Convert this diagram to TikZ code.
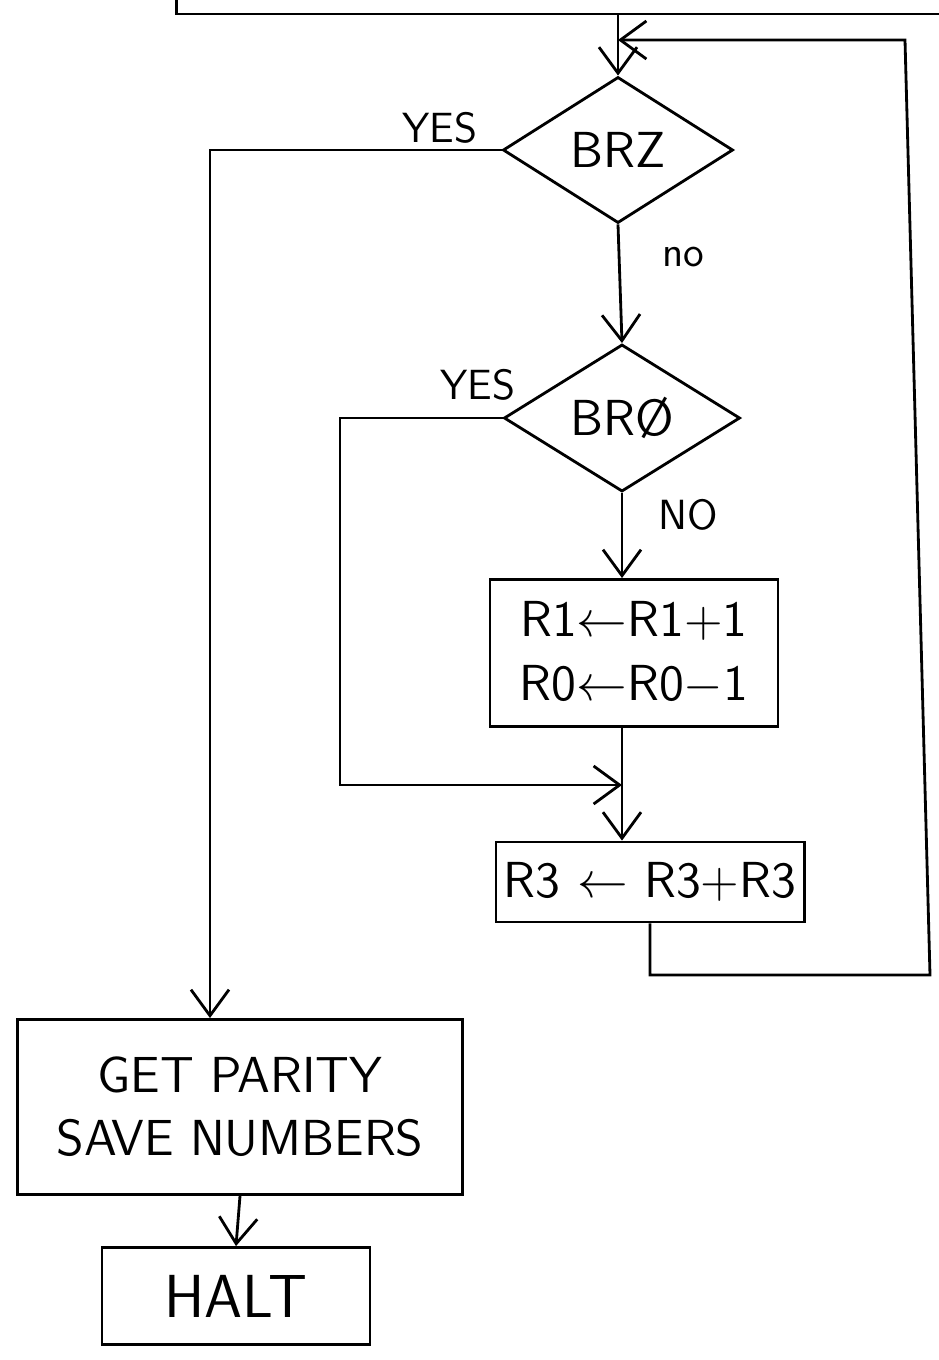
\documentclass[tikz,border=0pt]{standalone}
\usepackage{amsmath, amssymb}
\usepackage{tikz}
\usetikzlibrary{shapes, arrows.meta, positioning}

\tikzset{
	procbox/.style = {draw, thick, rectangle, inner sep=0pt, align=center, font=\sffamily\Large},
	decbox/.style = {draw, thick, diamond, aspect=1.6, inner sep=0pt, font=\sffamily\Large},
	flow/.style = {thick, -{Straight Barb[length=2.6mm, width=3.8mm]}},
	lbl/.style = {font=\sffamily\large}
}

\begin{document}
\begin{tikzpicture}[x=0.01cm, y=-0.01cm]
			\path[use as bounding box, clip] (0,0) rectangle (939,1360);
			
			%% boxes and tests
			\node[procbox, minimum width=8.82cm, minimum height=1.2cm] (prev) at (618,-46) {};
			\node[decbox, minimum width=2.3cm, minimum height=1.46cm] (brz) at (618,150) {BRZ};
			\node[decbox, minimum width=2.36cm, minimum height=1.47cm] (bro) at (622,418) {BR\O};
			\node[procbox, minimum width=2.88cm, minimum height=1.47cm] (upd) at (634,653)
			{R1$\leftarrow$R1+1\\R0$\leftarrow$R0$-$1};
			\node[procbox, minimum width=3.08cm, minimum height=0.8cm] (dbl) at (650,882)
			{R3 $\leftarrow$ R3+R3};
			\node[procbox, minimum width=4.44cm, minimum height=1.75cm] (parity) at (240,1107)
			{GET PARITY\\SAVE NUMBERS};
			\node[procbox, minimum width=2.68cm, minimum height=0.97cm, font=\sffamily\LARGE] (halt) at (236,1296) {HALT};
			
			%% branch labels
			\node[lbl] (yesa) at (440,128) {YES};
			\node[lbl] (noa) at (683,257) {no};
			\node[lbl] (yesb) at (478,385) {YES};
			\node[lbl] (nob) at (688,515) {NO};
			
			%% corners
			\coordinate (loopbr) at (930,975);
			\coordinate (looptr) at (905,40);
			\coordinate (jcorner) at (340,785);
			
			%% connectors
			\draw[flow] (prev.south) -- (brz.north);
			\draw[flow] (brz.south) -- (bro.north);
			\draw[flow] (bro.south) -- (bro.south |- upd.north);
			\draw[flow] (bro.south |- upd.south) -- (bro.south |- dbl.north);
			\draw[flow] (dbl.south) -- (dbl.south |- loopbr) -- (loopbr) -- (looptr) -- (brz.north |- looptr);
			\draw[flow] (brz.west) -| ([xshift=-0.3cm]parity.north);
			\draw[flow] (bro.west) -| (jcorner) -- (bro.south |- jcorner);
			\draw[flow] (parity.south) -- (halt.north);
		\end{tikzpicture}
\end{document}
